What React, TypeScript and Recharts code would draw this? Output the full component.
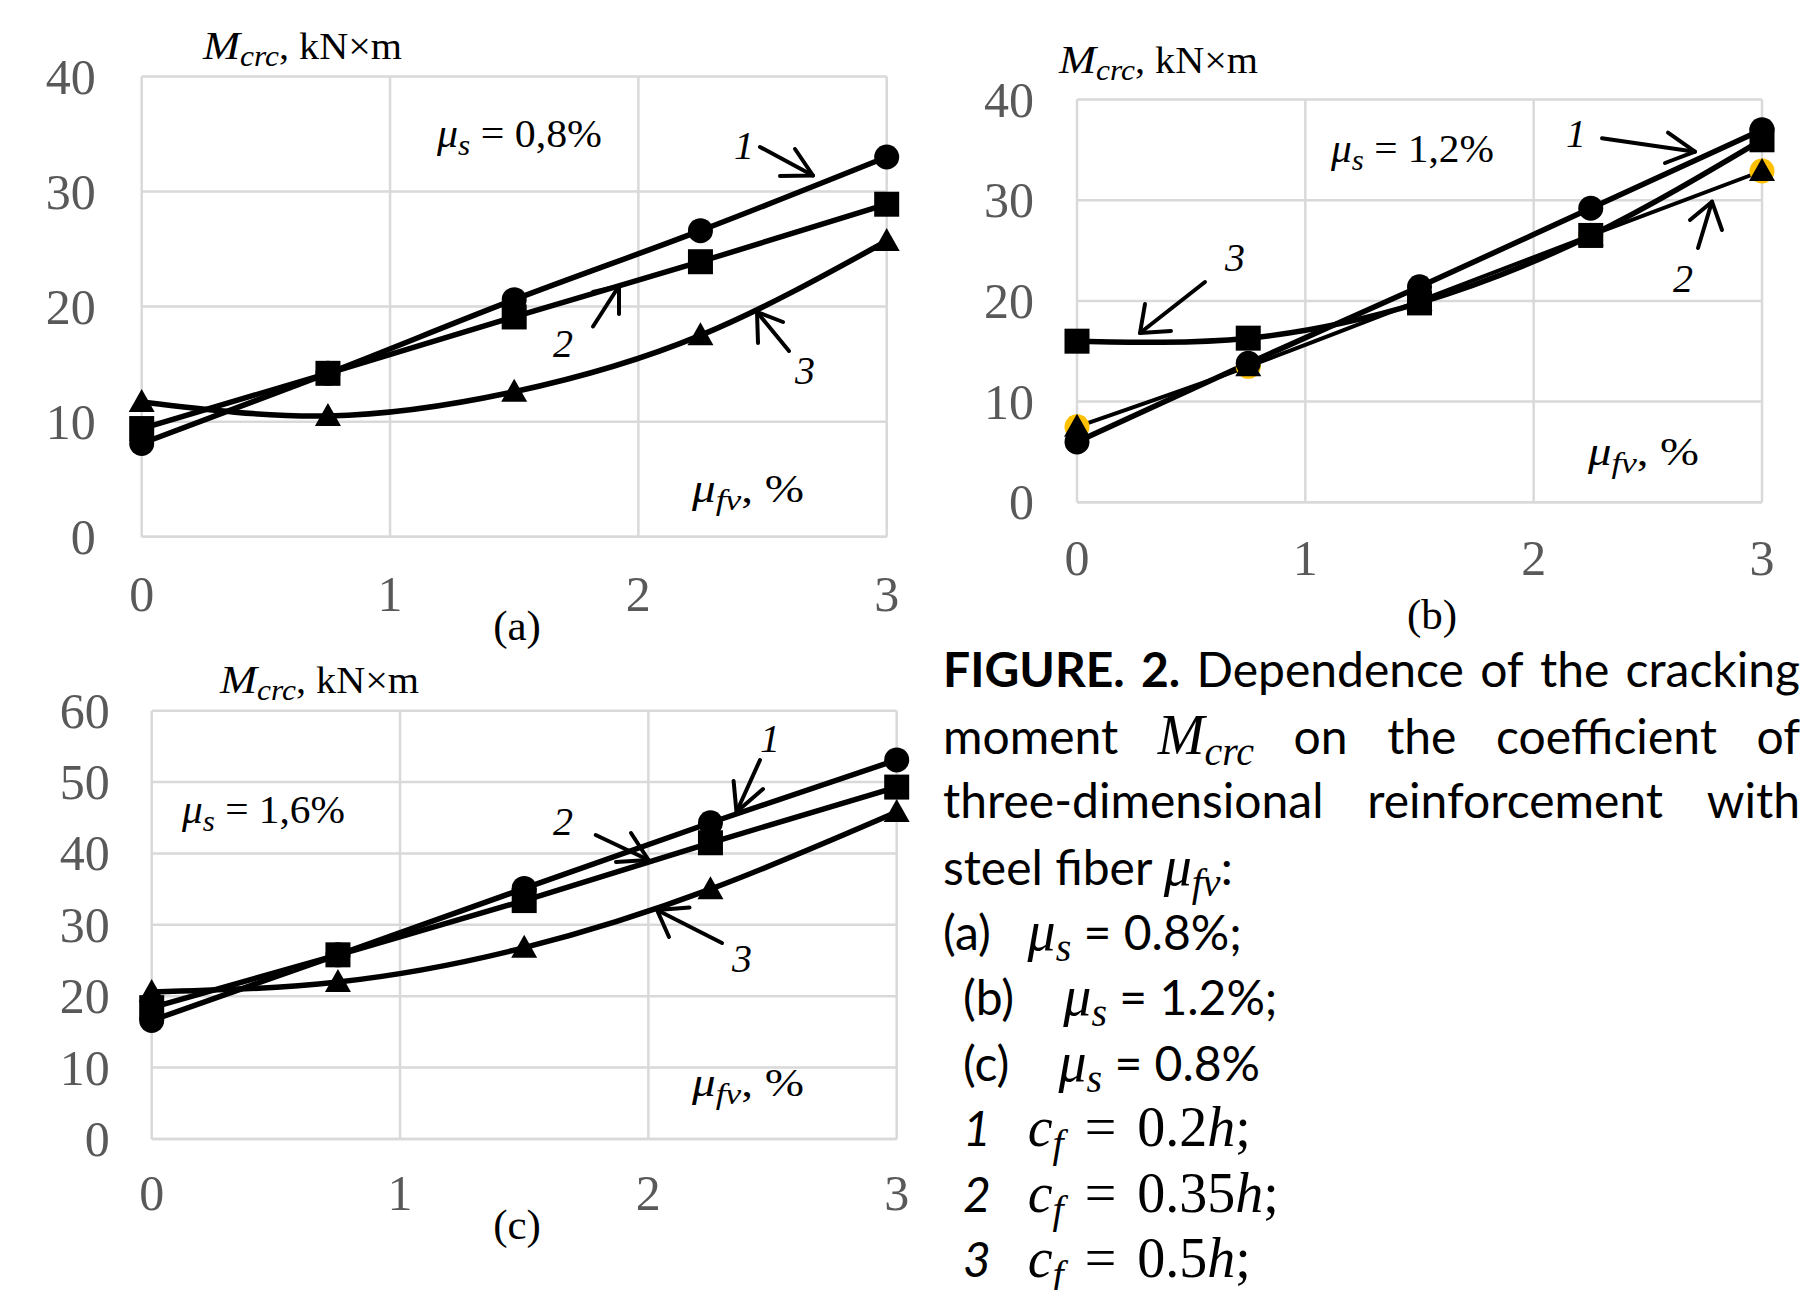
import React from "react";
import { LineChart, Line, XAxis, YAxis, CartesianGrid } from "recharts";

// fibre reinforcement ratio mu_fv, %
const muFv = [0, 0.75, 1.5, 2.25, 3];
const xTicks = [0, 1, 2, 3];

// (a) mu_s = 0.8 %
const aTicks = [0, 10, 20, 30, 40];
const aCurve1 = [8.1, 14.2, 20.6, 26.6, 33.0];
const aCurve2 = [9.4, 14.2, 19.1, 23.9, 28.9];
const aCurve3 = [11.7, 10.5, 12.6, 17.5, 25.7];

// (b) mu_s = 1.2 %
const bTicks = [0, 10, 20, 30, 40];
const bCurve1 = [6.0, 13.8, 21.4, 29.2, 37.0];
const bCurve2 = [7.5, 13.5, 20.0, 26.5, 32.9];
const bCurve3 = [16.0, 16.3, 19.8, 26.5, 36.0];

// (c) mu_s = 1.6 %
const cTicks = [0, 10, 20, 30, 40, 50, 60];
const cCurve1 = [16.6, 25.8, 35.1, 44.3, 53.1];
const cCurve2 = [18.4, 25.8, 33.4, 41.5, 49.3];
const cCurve3 = [20.6, 22.0, 26.8, 35.0, 45.8];

const SERIF = '"Liberation Serif", "Times New Roman", serif';
const CAP_FONT = 'Lato, "Open Sans", sans-serif';
const GRID = "#d9d9d9";
const TICK_GREY = "#595959";

type Shape = "circle" | "square" | "triangle";
type Series = { key: string; values: number[]; shape: Shape; curve: "linear" | "natural" | "monotone"; width: number; halo?: boolean };

function marker(shape: Shape, halo = false) {
  return (p: any) => {
    const { cx, cy, index } = p;
    const k = `m-${shape}-${index}`;
    if (cx == null || cy == null) return <g key={k} />;
    if (shape === "circle") return <circle key={k} cx={cx} cy={cy} r={12.5} fill="#000" />;
    if (shape === "square") return <rect key={k} x={cx - 12.5} y={cy - 12.5} width={25} height={25} fill="#000" />;
    return (
      <g key={k}>
        {halo && <circle cx={cx} cy={cy} r={12.5} fill="#FFC000" />}
        <polygon points={`${cx},${cy - 13} ${cx - 13},${cy + 10} ${cx + 13},${cy + 10}`} fill="#000" />
      </g>
    );
  };
}

const xTick = (p: any) => (
  <text x={p.x} y={p.y} dy="0.68em" textAnchor="middle" fontFamily={SERIF} fontSize={50} fill={TICK_GREY}>
    {p.payload.value}
  </text>
);
const yTick = (p: any) => (
  <text x={p.x} y={p.y} dy="0.34em" textAnchor="end" fontFamily={SERIF} fontSize={50} fill={TICK_GREY}>
    {p.payload.value}
  </text>
);

interface PanelProps {
  left: number; top: number; w: number; h: number;
  plot: { top: number; left: number; right: number; bottom: number };
  yTicks: number[]; series: Series[]; yGap: number; xGap: number;
}

function Panel({ left, top, w, h, plot, yTicks, series, yGap, xGap }: PanelProps) {
  const data = muFv.map((x, i) => {
    const row: any = { x };
    series.forEach(s => (row[s.key] = s.values[i]));
    return row;
  });
  return (
    <div style={{ position: "absolute", left, top }}>
      <LineChart width={w} height={h} data={data} margin={{ top: plot.top, right: w - plot.right, bottom: 0, left: 0 }}>
        <CartesianGrid stroke={GRID} strokeWidth={2.5} />
        <XAxis type="number" dataKey="x" domain={[0, 3]} ticks={xTicks} interval={0} height={h - plot.bottom}
          tickSize={0} tickMargin={xGap} axisLine={{ stroke: GRID, strokeWidth: 2.5 }} tick={xTick} />
        <YAxis type="number" domain={[0, yTicks[yTicks.length - 1]]} ticks={yTicks} interval={0} width={plot.left}
          tickSize={0} tickMargin={yGap} axisLine={false} tick={yTick} />
        {series.map(s => (
          <Line key={s.key} dataKey={s.key} type={s.curve} stroke="#000" strokeWidth={s.width}
            dot={marker(s.shape, s.halo)} activeDot={false} isAnimationActive={false} />
        ))}
      </LineChart>
    </div>
  );
}

function AxisTitle({ x, y }: { x: number; y: number }) {
  return (
    <text x={x} y={y} fontFamily={SERIF} fontSize={37} textLength={199} lengthAdjust="spacingAndGlyphs">
      <tspan fontStyle="italic" fontSize={41}>M</tspan>
      <tspan fontStyle="italic" fontSize={29} dy={7}>crc</tspan>
      <tspan dy={-7}>, kN×m</tspan>
    </text>
  );
}

function MuNote({ x, y, len, sub, rest }: { x: number; y: number; len: number; sub: string; rest: string }) {
  return (
    <text x={x} y={y} fontFamily={SERIF} fontSize={40} textLength={len} lengthAdjust="spacingAndGlyphs">
      <tspan fontStyle="italic">μ</tspan>
      <tspan fontStyle="italic" fontSize={30} dy={8}>{sub}</tspan>
      <tspan dy={-8}>{rest}</tspan>
    </text>
  );
}

function Arrow({ from, tip, arms }: { from: number[]; tip: number[]; arms: number[][] }) {
  return (
    <g stroke="#000" strokeWidth={4} fill="none" strokeLinecap="round" strokeLinejoin="round">
      <line x1={from[0]} y1={from[1]} x2={tip[0]} y2={tip[1]} />
      <polyline points={`${arms[0][0]},${arms[0][1]} ${tip[0]},${tip[1]} ${arms[1][0]},${arms[1][1]}`} />
    </g>
  );
}

function Num({ x, y, t }: { x: number; y: number; t: string }) {
  return <text x={x} y={y} textAnchor="middle" fontFamily={SERIF} fontStyle="italic" fontSize={40}>{t}</text>;
}

function PanelLabel({ x, y, t }: { x: number; y: number; t: string }) {
  return <text x={x} y={y} textAnchor="middle" fontFamily={SERIF} fontSize={43}>{t}</text>;
}

const mathI: React.CSSProperties = { fontFamily: SERIF, fontStyle: "italic", fontSize: 56 };
const subI: React.CSSProperties = { fontFamily: SERIF, fontStyle: "italic", fontSize: 40, position: "relative", top: 11 };
const mathR: React.CSSProperties = { fontFamily: SERIF, fontSize: 56 };
const rel: React.CSSProperties = { margin: "0 7px" };

function CapLine({ i, justify, indent = 0, children }: { i: number; justify?: boolean; indent?: number; children: React.ReactNode }) {
  return (
    <div style={{
      position: "absolute", left: 943 + indent, top: 688 + i * 65.4 - 48.6, width: justify ? 857 : undefined,
      height: 60, lineHeight: "60px", fontFamily: CAP_FONT, fontSize: 48, whiteSpace: "pre", color: "#000",
      display: justify ? "flex" : "block", justifyContent: "space-between", alignItems: "baseline",
    }}>{children}</div>
  );
}

export default function App() {
  return (
    <div style={{ position: "absolute", left: 0, top: 0, width: 1815, height: 1290, background: "#fff", overflow: "hidden" }}>
      <Panel left={0} top={0} w={930} h={640} plot={{ top: 76.5, left: 141.7, right: 886.7, bottom: 536.7 }}
        yTicks={aTicks} yGap={46} xGap={40}
        series={[
          { key: "s1", values: aCurve1, shape: "circle", curve: "monotone", width: 5.5 },
          { key: "s2", values: aCurve2, shape: "square", curve: "monotone", width: 5.5 },
          { key: "s3", values: aCurve3, shape: "triangle", curve: "natural", width: 5.5 },
        ]} />
      <Panel left={960} top={0} w={855} h={640} plot={{ top: 99.5, left: 117, right: 802, bottom: 502.3 }}
        yTicks={bTicks} yGap={43} xGap={39}
        series={[
          { key: "s2", values: bCurve2, shape: "triangle", curve: "monotone", width: 4, halo: true },
          { key: "s1", values: bCurve1, shape: "circle", curve: "monotone", width: 5.5 },
          { key: "s3", values: bCurve3, shape: "square", curve: "natural", width: 5.5 },
        ]} />
      <Panel left={0} top={640} w={930} h={650} plot={{ top: 70.7, left: 151.7, right: 896.7, bottom: 499 }}
        yTicks={cTicks} yGap={42} xGap={37}
        series={[
          { key: "s1", values: cCurve1, shape: "circle", curve: "monotone", width: 5.5 },
          { key: "s2", values: cCurve2, shape: "square", curve: "monotone", width: 5.5 },
          { key: "s3", values: cCurve3, shape: "triangle", curve: "natural", width: 5.5 },
        ]} />

      <svg width={1815} height={1290} style={{ position: "absolute", left: 0, top: 0, pointerEvents: "none" }}>
        {/* (a) */}
        <AxisTitle x={203} y={59} />
        <MuNote x={437} y={147} len={165} sub="s" rest=" = 0,8%" />
        <MuNote x={692} y={502} len={112} sub="fv" rest=", %" />
        <Num x={744} y={159} t="1" />
        <Arrow from={[760, 147]} tip={[813, 175.5]} arms={[[795, 149], [780, 176]]} />
        <Num x={563} y={357} t="2" />
        <Arrow from={[593, 326.5]} tip={[619, 286]} arms={[[593, 292], [619, 314]]} />
        <Num x={805} y={384} t="3" />
        <Arrow from={[789, 351]} tip={[757, 312]} arms={[[758, 343], [783, 322]]} />
        <PanelLabel x={517} y={640} t="(a)" />

        {/* (b) */}
        <AxisTitle x={1059} y={73} />
        <MuNote x={1331} y={162} len={163} sub="s" rest=" = 1,2%" />
        <MuNote x={1588} y={465} len={111} sub="fv" rest=", %" />
        <Num x={1576} y={147} t="1" />
        <Arrow from={[1602, 138.3]} tip={[1695, 151.7]} arms={[[1668, 132.7], [1665, 163]]} />
        <Num x={1235} y={271} t="3" />
        <Arrow from={[1205, 282]} tip={[1140, 333]} arms={[[1145, 304], [1171, 331]]} />
        <Num x={1683} y={292} t="2" />
        <Arrow from={[1698, 248]} tip={[1712, 201.7]} arms={[[1690, 220], [1722, 230]]} />
        <PanelLabel x={1432} y={629} t="(b)" />

        {/* (c) */}
        <AxisTitle x={220} y={693} />
        <MuNote x={182} y={823} len={163} sub="s" rest=" = 1,6%" />
        <MuNote x={692} y={1096} len={112} sub="fv" rest=", %" />
        <Num x={770} y={752} t="1" />
        <Arrow from={[760, 760]} tip={[736.5, 812]} arms={[[733.6, 781], [763, 789]]} />
        <Num x={563} y={835} t="2" />
        <Arrow from={[595.7, 835]} tip={[648.5, 860]} arms={[[631, 833], [616, 862]]} />
        <Num x={742} y={972} t="3" />
        <Arrow from={[722, 943]} tip={[657, 910]} arms={[[669, 937], [689.5, 907.6]]} />
        <PanelLabel x={517} y={1239} t="(c)" />
      </svg>

      {/* caption */}
      <CapLine i={0} justify>
        <b>FIGURE.</b><b>2.</b><span>Dependence</span><span>of</span><span>the</span><span>cracking</span>
      </CapLine>
      <CapLine i={1} justify>
        <span>moment</span><span><span style={mathI}>M</span><span style={subI}>crc</span></span>
        <span>on</span><span>the</span><span>coefficient</span><span>of</span>
      </CapLine>
      <CapLine i={2} justify>
        <span>three-dimensional</span><span>reinforcement</span><span>with</span>
      </CapLine>
      <CapLine i={3}>
        steel fiber <span style={mathI}>μ</span><span style={subI}>fv</span>:
      </CapLine>
      <CapLine i={4}>
        (a)   <span style={mathI}>μ</span><span style={subI}>s</span> = 0.8%;
      </CapLine>
      <CapLine i={5} indent={20}>
        (b)    <span style={mathI}>μ</span><span style={subI}>s</span> = 1.2%;
      </CapLine>
      <CapLine i={6} indent={20}>
        (c)    <span style={mathI}>μ</span><span style={subI}>s</span> = 0.8%
      </CapLine>
      <CapLine i={7} indent={20}>
        <i>1</i>   <span style={mathI}>c</span><span style={subI}>f</span><span style={mathR}><span style={rel}> = </span>0.2<i>h</i>;</span>
      </CapLine>
      <CapLine i={8} indent={20}>
        <i>2</i>   <span style={mathI}>c</span><span style={subI}>f</span><span style={mathR}><span style={rel}> = </span>0.35<i>h</i>;</span>
      </CapLine>
      <CapLine i={9} indent={20}>
        <i>3</i>   <span style={mathI}>c</span><span style={subI}>f</span><span style={mathR}><span style={rel}> = </span>0.5<i>h</i>;</span>
      </CapLine>
    </div>
  );
}
